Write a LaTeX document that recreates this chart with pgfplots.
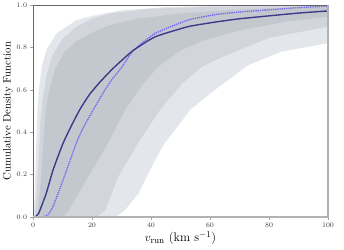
\documentclass[border=0pt]{standalone}
\usepackage{pgfplots}
\pgfplotsset{compat=1.18}
\definecolor{bandA}{HTML}{E3E6EA}
\definecolor{bandB}{HTML}{D2D6DC}
\definecolor{bandC}{HTML}{C3C8CF}
\definecolor{solidc}{HTML}{3E3A8A}
\definecolor{dotc}{HTML}{7466EE}
\begin{document}
\begin{tikzpicture}
\begin{axis}[name=ax,
  scale only axis, width=295bp, height=212bp,
  xmin=0, xmax=100, ymin=0, ymax=1,
  xtick={0,20,...,100}, ytick={0,0.2,...,1.0},
  yticklabel style={/pgf/number format/fixed,/pgf/number format/fixed zerofill,/pgf/number format/precision=1},
  tick label style={font=\fontsize{7.3}{8}\selectfont, text=black!75},
  tick align=outside, tick pos=left,
  major tick length=2.5bp,
  every tick/.style={draw=gray!70, line width=0.6pt},
  axis line style={draw=none},
  xlabel={$v_{\mathrm{run}}$ (km s$^{-1}$)},
  ylabel={Cumulative Density Function},
  xlabel style={font=\fontsize{12.5}{14}\selectfont, yshift=3pt},
  ylabel style={font=\fontsize{10.8}{12}\selectfont, yshift=-3pt},
  clip=true,
]
% outer band
\addplot[fill=bandA, draw=none] coordinates {
(0,0)(0.5,0.08)(1,0.3)(1.5,0.5)(2,0.6)(3,0.71)(4.6,0.79)(8,0.866)(14.8,0.929)(21.6,0.953)(30,0.975)(45,0.99)(65,0.996)(100,0.999)
(100,0.82)(84.3,0.78)(73,0.717)(61.7,0.6)(53.2,0.505)(49.2,0.43)(44.7,0.35)(41.4,0.27)(35.7,0.11)(31,0.03)(28,0)
} -- cycle;
% middle band
\addplot[fill=bandB, draw=none] coordinates {
(0.5,0)(1,0.06)(2,0.3)(2.5,0.45)(3.2,0.55)(4.5,0.66)(6.5,0.76)(10,0.84)(15,0.9)(20,0.935)(26,0.96)(40,0.982)(60,0.992)(100,0.997)
(100,0.898)(80,0.845)(63.4,0.75)(57.4,0.71)(50.6,0.63)(43,0.505)(35.7,0.35)(28.9,0.19)(24.4,0.03)(21.6,0)
} -- cycle;
% inner band
\addplot[fill=bandC, draw=none] coordinates {
(1.5,0)(2.5,0.15)(3.5,0.35)(4.3,0.5)(5.2,0.58)(7.5,0.7)(10.8,0.78)(14.8,0.83)(21.6,0.88)(26,0.905)(35,0.935)(50,0.96)(65,0.975)(80,0.985)(100,0.992)
(100,0.945)(85,0.92)(70,0.88)(58.3,0.835)(50.6,0.79)(42.5,0.71)(37.4,0.63)(31.2,0.505)(25.5,0.35)(20,0.22)(15,0.1)(12,0.03)(10.3,0)
} -- cycle;
% dotted line
\addplot[dotc, line width=1.35pt, dash pattern=on 1.3pt off 0.9pt, smooth, tension=0.3] coordinates {
(0,0)(3,0)(5,0.01)(6.8,0.05)(10.2,0.175)(12.4,0.26)(15,0.36)(17,0.42)(20.4,0.505)(24.4,0.6)(27.1,0.655)(30,0.705)(34,0.785)(41.4,0.866)(52.6,0.929)(62,0.955)(70,0.967)(80.9,0.978)(90,0.988)(100,0.995)
};
% solid line
\addplot[solidc, line width=1.4pt, smooth, tension=0.3] coordinates {
(0,0)(0.8,0)(2,0.02)(4.5,0.112)(6.8,0.222)(10.2,0.348)(13,0.43)(15.8,0.505)(19,0.575)(22.6,0.635)(26,0.685)(28.2,0.715)(33.9,0.785)(41.4,0.85)(52.6,0.898)(62,0.92)(70,0.935)(80.9,0.95)(90,0.962)(100,0.972)
};
\end{axis}
\draw[gray!80!black, line width=0.8pt] (ax.south west) -- (ax.north west) -- (ax.north east);
\draw[gray!60, line width=1.1pt] (ax.north east) -- (ax.south east) -- (ax.south west);
\pgfresetboundingbox
\path (ax.south west) ++(-33bp,-33bp);
\path (ax.north east) ++(16bp,5bp);
\end{tikzpicture}
\end{document}
